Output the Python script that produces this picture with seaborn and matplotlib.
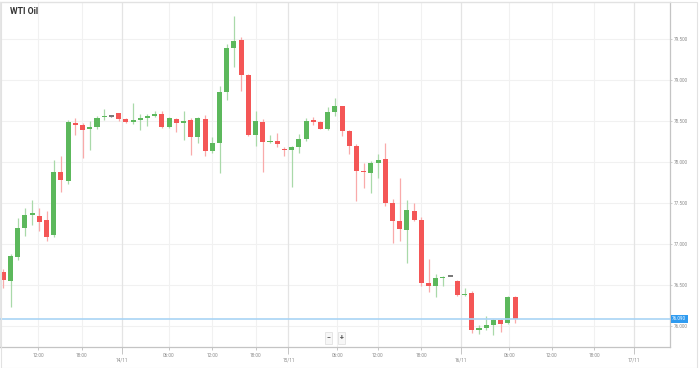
import numpy as np
import pandas as pd
import seaborn as sns
import matplotlib
matplotlib.use("Agg")
import matplotlib.pyplot as plt
from matplotlib.patches import Rectangle

# ---------------- data ----------------
title = "WTI Oil"
opens = [76.658, 76.549, 76.848, 77.192, 77.360, 77.345, 77.297, 77.115, 77.879, 77.770,
         78.481, 78.452, 78.404, 78.433, 78.550, 78.554, 78.594, 78.521, 78.493, 78.509,
         78.533, 78.558, 78.590, 78.424, 78.530, 78.473, 78.513, 78.307, 78.530, 78.133,
         78.230, 78.857, 79.390, 79.487, 79.067, 78.327, 78.493, 78.239, 78.258, 78.158,
         78.145, 78.182, 78.282, 78.500, 78.493, 78.404, 78.610, 78.682, 78.384, 78.202,
         77.891, 77.863, 77.984, 78.036, 77.495, 77.276, 77.176, 77.406, 77.293, 76.530,
         76.485, 76.585, 76.602, 76.554, 76.379, 76.400, 75.948, 75.976, 76.008, 76.069,
         76.033, 76.360]
closes = [76.558, 76.852, 77.200, 77.349, 77.366, 77.273, 77.091, 77.882, 77.778, 78.488,
          78.448, 78.396, 78.433, 78.537, 78.554, 78.554, 78.530, 78.485, 78.509, 78.542,
          78.561, 78.585, 78.428, 78.537, 78.473, 78.505, 78.303, 78.537, 78.133, 78.234,
          78.852, 79.385, 79.479, 79.058, 78.327, 78.497, 78.246, 78.255, 78.215, 78.142,
          78.178, 78.282, 78.497, 78.494, 78.408, 78.610, 78.687, 78.379, 78.198, 77.887,
          77.875, 77.992, 78.028, 77.495, 77.276, 77.179, 77.410, 77.293, 76.521, 76.488,
          76.590, 76.602, 76.602, 76.376, 76.392, 75.952, 75.979, 76.012, 76.073, 76.028,
          76.355, 76.088]
highs = [76.691, 76.885, 77.313, 77.442, 77.539, 77.442, 77.406, 78.028, 78.076, 78.518,
         78.537, 78.473, 78.505, 78.558, 78.646, 78.560, 78.602, 78.542, 78.719, 78.585,
         78.590, 78.618, 78.618, 78.545, 78.537, 78.618, 78.537, 78.545, 78.578, 78.311,
         78.930, 79.442, 79.782, 79.527, 79.079, 78.627, 78.530, 78.336, 78.352, 78.185,
         78.190, 78.339, 78.537, 78.545, 78.497, 78.667, 78.779, 78.687, 78.392, 78.215,
         77.992, 78.012, 78.097, 78.230, 77.548, 77.810, 77.536, 77.495, 77.333, 76.816,
         76.630, 76.615, 76.602, 76.558, 76.461, 76.428, 76.012, 76.121, 76.088, 76.081,
         76.364, 76.364]
lows = [76.461, 76.234, 76.800, 77.095, 77.236, 77.164, 77.034, 77.082, 77.636, 77.737,
        78.336, 78.045, 78.142, 78.408, 78.509, 78.550, 78.505, 78.473, 78.464, 78.392,
        78.436, 78.545, 78.416, 78.416, 78.364, 78.275, 78.088, 78.234, 78.076, 78.113,
        77.867, 78.760, 79.164, 78.869, 78.315, 78.194, 77.879, 78.230, 78.185, 78.076,
        77.697, 78.109, 78.255, 78.457, 78.404, 78.396, 78.566, 78.319, 78.093, 77.527,
        77.688, 77.621, 77.810, 77.467, 77.010, 77.034, 76.767, 77.285, 76.485, 76.416,
        76.355, 76.488, 76.602, 76.370, 76.367, 75.919, 75.899, 75.952, 75.891, 75.931,
        76.024, 76.040]
current_price = 76.090

hour_ticks = [4.86, 10.88, 22.99, 29.0, 35.02, 46.34, 51.95, 57.96, 70.2, 76.1, 81.99]
hour_labels = ["12:00", "18:00", "06:00", "12:00", "18:00", "06:00",
               "12:00", "18:00", "06:00", "12:00", "18:00"]
day_ticks = [16.51, 39.55, 63.51, 87.55]
day_labels = ["14/11", "15/11", "16/11", "17/11"]
y_ticks = [76.0, 76.5, 77.0, 77.5, 78.0, 78.5, 79.0, 79.5]

# ---------------- style ----------------
sns.set_theme(style="white")
plt.rcParams["font.family"] = ["Roboto", "DejaVu Sans"]

W, H = 699, 368
fig = plt.figure(figsize=(W / 100, H / 100), dpi=100)
ax = fig.add_axes([0 / W, (H - 347) / H, 670 / W, (347 - 2) / H])

df = pd.DataFrame({"open": opens, "close": closes, "high": highs, "low": lows})
df["x"] = np.arange(len(df))
GREEN, RED, GREY = "#5cb85c", "#f45656", "#7a7a7a"
GREEN_W, RED_W = "#a9d9a9", "#f9aaaa"

def body_color(r):
    if r.close > r.open:
        return GREEN
    if r.close < r.open:
        return RED
    return GREY

df["color"] = df.apply(body_color, axis=1)
df["wcolor"] = df["color"].map({GREEN: GREEN_W, RED: RED_W, GREY: GREY})
df["bottom"] = df[["open", "close"]].min(axis=1)
df["height"] = (df["open"] - df["close"]).abs().clip(lower=0.016)

ax.vlines(df["x"], df["low"], df["high"], colors=df["wcolor"], linewidth=0.9, zorder=2)
ax.bar(df["x"], df["height"], bottom=df["bottom"], width=0.7,
       color=df["color"], edgecolor="none", zorder=3)

ax.set_xlim(-0.46, 92.5)
ax.set_ylim(75.745, 79.952)

# grid
for v in y_ticks:
    ax.axhline(v, color="#f1f1f1", lw=0.8, zorder=0)
for t in hour_ticks:
    ax.axvline(t, color="#f1f1f1", lw=0.8, zorder=0)
for t in day_ticks:
    ax.axvline(t, color="#e4e4e4", lw=0.9, zorder=0)

# current price line
ax.axhline(current_price, color="#a9d4f5", lw=1.2, zorder=4)

# x ticks
ax.set_xticks(hour_ticks, labels=hour_labels)
ax.set_xticks(day_ticks, labels=day_labels, minor=True)
ax.tick_params(axis="x", which="major", length=2.2, width=0.6, color="#bbbbbb",
               labelsize=3.4, labelcolor="#8a8a8a", pad=1.8, bottom=True)
ax.tick_params(axis="x", which="minor", length=5, width=0.6, color="#bbbbbb",
               labelsize=3.4, labelcolor="#8a8a8a", pad=2.6, bottom=True)

# y ticks on right
ax.yaxis.tick_right()
ax.set_yticks(y_ticks, labels=[f"{v:.3f}" for v in y_ticks])
ax.tick_params(axis="y", length=1.5, width=0.5, color="#bbbbbb", labelsize=3.3,
               labelcolor="#8a8a8a", pad=1.2, right=True, left=False)

for side, c in [("left", "#e6e6e6"), ("top", "#e6e6e6"),
                ("right", "#c4c4c4"), ("bottom", "#c4c4c4")]:
    ax.spines[side].set_visible(True)
    ax.spines[side].set_color(c)
    ax.spines[side].set_linewidth(0.9)

# current price label
ax.annotate(f"{current_price:.3f}", xy=(1.0, current_price), xycoords=("axes fraction", "data"),
            xytext=(1.6, 0), textcoords="offset points", ha="left", va="center",
            fontsize=3.3, color="white", annotation_clip=False,
            bbox=dict(boxstyle="square,pad=0.35", fc="#2f9bf0", ec="none"))

# title
fig.text(10 / W, 1 - 12 / H, title, fontsize=6.3, fontweight="bold",
         color="#333333", ha="left", va="center")

# zoom buttons
for xx, s in [(328.5, "\u2212"), (341.5, "+")]:
    fig.text(xx / W, 1 - 338 / H, s, fontsize=5, fontweight="bold", color="#555555",
             ha="center", va="center",
             bbox=dict(boxstyle="square,pad=0.25", fc="#f7f7f7", ec="#dddddd", lw=0.5))

# outer frame
fig.patches.append(Rectangle((0.5 / W, 0.5 / H), (W - 2.5) / W, (H - 2.5) / H,
                             transform=fig.transFigure, fill=False,
                             ec="#e2e2e2", lw=0.8))

fig.savefig("out.png", dpi=100, facecolor="white")
